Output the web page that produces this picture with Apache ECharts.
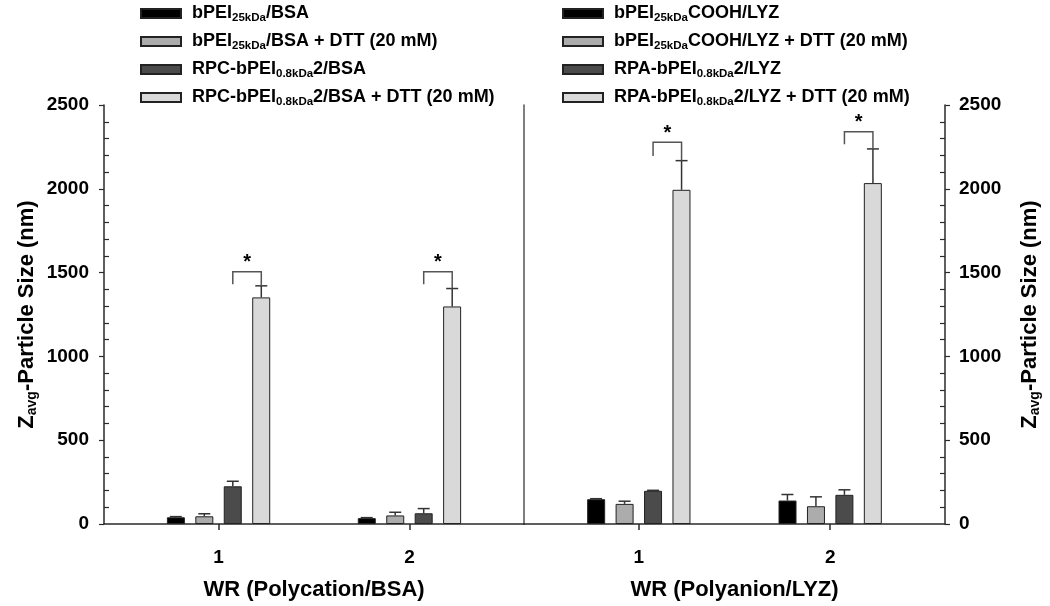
<!DOCTYPE html>
<html>
<head>
<meta charset="utf-8">
<script src="https://cdn.jsdelivr.net/npm/echarts@6/dist/echarts.min.js"></script>
<style>html,body{margin:0;padding:0;background:#fff}#c{width:1050px;height:606px}</style>
</head>
<body>
<div id="c"></div>
<script>
// ---- data ----
const xValues = [1, 2];
const bsaLabels = [
  ['bPEI', '25kDa', '/BSA'],
  ['bPEI', '25kDa', '/BSA + DTT (20 mM)'],
  ['RPC-bPEI', '0.8kDa', '2/BSA'],
  ['RPC-bPEI', '0.8kDa', '2/BSA + DTT (20 mM)']
];
const lyzLabels = [
  ['bPEI', '25kDa', 'COOH/LYZ'],
  ['bPEI', '25kDa', 'COOH/LYZ + DTT (20 mM)'],
  ['RPA-bPEI', '0.8kDa', '2/LYZ'],
  ['RPA-bPEI', '0.8kDa', '2/LYZ + DTT (20 mM)']
];
const bsaMeans  = [[40, 35], [46, 51], [225, 64], [1352, 1298]];
const bsaErrors = [[4, 3], [15, 19], [30, 28], [69, 107]];
const lyzMeans  = [[148, 140], [120, 106], [198, 174], [1994, 2034]];
const lyzErrors = [[3, 36], [16, 56], [3, 30], [174, 204]];
// significance brackets: [x, bracket top, left leg end]
const bsaBrackets = [[1, 1505, 1430], [2, 1505, 1430]];
const lyzBrackets = [[1, 2278, 2196], [2, 2341, 2266]];
const xTitleBSA = 'WR (Polycation/BSA)';
const xTitleLYZ = 'WR (Polyanion/LYZ)';
const yTitle = ['Z', 'avg', '-Particle Size (nm)'];

// ---- styles ----
const FONT = "'Liberation Sans', Arial, sans-serif";
const barColors = ['#000000', '#acacac', '#4b4b4b', '#d9d9d9'];
const BAR_W = 18, BAR_STEP = 28.5;
const AX = '#2a2a2a';

const nameOf = p => p.join('');
const richName = p => '{m|' + p[0] + '}{s|' + p[1] + '}{m|' + p[2] + '}';
const richStyles = {
  m: {fontFamily: FONT, fontWeight: 'bold', fontSize: 18, color: '#000', lineHeight: 21},
  s: {fontFamily: FONT, fontWeight: 'bold', fontSize: 11.5, color: '#000', lineHeight: 11, padding: [9, 0, 0, 0]}
};

function errorRender(params, api) {
  const x = api.value(0), v = api.value(1), e = api.value(2), k = api.value(3);
  const base = api.coord([x, v]);
  const top = api.coord([x, v + e]);
  const cx = base[0] + (k - 1.5) * BAR_STEP;
  const st = {stroke: '#333', lineWidth: 1.5};
  return {type: 'group', children: [
    {type: 'line', shape: {x1: cx, y1: base[1], x2: cx, y2: top[1]}, style: st},
    {type: 'line', shape: {x1: cx - 6, y1: top[1], x2: cx + 6, y2: top[1]}, style: st}
  ]};
}
function bracketRender(params, api) {
  const x = api.value(0), t = api.value(1), l = api.value(2), r = api.value(3);
  const pt = api.coord([x, t]), pl = api.coord([x, l]), pr = api.coord([x, r]);
  const xl = pt[0] + 0.5 * BAR_STEP, xr = pt[0] + 1.5 * BAR_STEP;
  const st = {stroke: '#555', lineWidth: 1.5, fill: null};
  return {type: 'group', children: [
    {type: 'polyline', shape: {points: [[xl, pl[1]], [xl, pt[1]], [xr, pt[1]], [xr, pr[1]]]}, style: st},
    {type: 'text', style: {text: '*', x: (xl + xr) / 2, y: pt[1] + 1, align: 'center', verticalAlign: 'bottom',
      font: 'bold 20px ' + FONT, fill: '#000'}}
  ]};
}

function panelSeries(labels, means, errors, brackets, gi, yi) {
  const out = [];
  labels.forEach((p, k) => {
    out.push({
      type: 'bar', name: nameOf(p), xAxisIndex: gi, yAxisIndex: yi,
      data: xValues.map((x, i) => [x, means[k][i]]),
      barWidth: BAR_W, barGap: '58%',
      itemStyle: {color: barColors[k], borderColor: '#222', borderWidth: 1},
      emphasis: {disabled: true}
    });
  });
  const errData = [];
  labels.forEach((p, k) => xValues.forEach((x, i) => errData.push([x, means[k][i], errors[k][i], k])));
  out.push({type: 'custom', xAxisIndex: gi, yAxisIndex: yi, renderItem: errorRender, data: errData, z: 3, silent: true});
  const brData = brackets.map(b => {
    const i = xValues.indexOf(b[0]);
    return [b[0], b[1], b[2], means[3][i] + errors[3][i]];
  });
  out.push({type: 'custom', xAxisIndex: gi, yAxisIndex: yi, renderItem: bracketRender, data: brData, z: 4, silent: true});
  return out;
}

const axisLabelStyle = {fontFamily: FONT, fontWeight: 'bold', fontSize: 19, color: '#000'};
const yNameRich = '{m|' + yTitle[0] + '}{s|' + yTitle[1] + '}{m|' + yTitle[2] + '}';
const yNameStyle = {
  rich: {
    m: {fontFamily: FONT, fontWeight: 'bold', fontSize: 22, color: '#000', lineHeight: 26},
    s: {fontFamily: FONT, fontWeight: 'bold', fontSize: 14, color: '#000', lineHeight: 14, padding: [11, 0, 0, 0]}
  }
};

function xAxis(gi, title) {
  return {
    type: 'value', gridIndex: gi, min: 0.4, max: 2.6,
    axisLine: {show: true, onZero: false, lineStyle: {color: AX, width: 1.5}},
    axisTick: {show: true, length: 6, customValues: xValues, lineStyle: {color: AX, width: 1.5}},
    axisLabel: {customValues: xValues, margin: 24, ...axisLabelStyle},
    splitLine: {show: false},
    name: title, nameLocation: 'middle', nameGap: 55,
    nameTextStyle: {fontFamily: FONT, fontWeight: 'bold', fontSize: 22, color: '#000'}
  };
}
function yMain(gi, pos, gap, margin) {
  return {
    type: 'value', gridIndex: gi, position: pos, min: 0, max: 2500, interval: 500,
    axisLine: {show: true, lineStyle: {color: AX, width: 1.5}},
    axisTick: {show: true, length: 5, lineStyle: {color: AX, width: 1.2}},
    axisLabel: {margin: margin, formatter: v => String(v), ...axisLabelStyle},
    splitLine: {show: false},
    name: yNameRich, nameLocation: 'middle', nameGap: gap, nameTextStyle: yNameStyle
  };
}
function yMinor(gi, pos) {
  return {
    type: 'value', gridIndex: gi, position: pos, min: 0, max: 2500, interval: 500,
    axisLine: {show: false}, axisLabel: {show: false},
    axisTick: {show: false, inside: true},
    minorTick: {show: true, splitNumber: 5, length: 5, lineStyle: {color: AX, width: 1.2}},
    splitLine: {show: false}
  };
}

const legendBase = {
  orient: 'vertical', top: 3, padding: 0, itemWidth: 40, itemHeight: 9, itemGap: 7,
  icon: 'rect', selectedMode: false,
  textStyle: {rich: richStyles, padding: [0, 0, 0, 6]}
};

const option = {
  animation: false,
  backgroundColor: '#fff',
  legend: [
    {...legendBase, left: 140, data: bsaLabels.map(nameOf),
      formatter: n => richName(bsaLabels.find(p => nameOf(p) === n))},
    {...legendBase, left: 562, data: lyzLabels.map(nameOf),
      formatter: n => richName(lyzLabels.find(p => nameOf(p) === n))}
  ],
  grid: [
    {left: 104, top: 105, width: 420, height: 419.5},
    {left: 524, top: 105, width: 421, height: 419.5}
  ],
  xAxis: [xAxis(0, xTitleBSA), xAxis(1, xTitleLYZ)],
  yAxis: [
    yMain(0, 'left', 64, 15), yMinor(0, 'left'),
    yMain(1, 'right', 72, 14), yMinor(1, 'right'),
    {type: 'value', gridIndex: 1, position: 'left', min: 0, max: 2500,
      axisLine: {show: true, lineStyle: {color: '#555', width: 1.5}},
      axisTick: {show: false}, axisLabel: {show: false}, splitLine: {show: false}}
  ],
  series: [
    ...panelSeries(bsaLabels, bsaMeans, bsaErrors, bsaBrackets, 0, 0),
    ...panelSeries(lyzLabels, lyzMeans, lyzErrors, lyzBrackets, 1, 2)
  ]
};
const chart = echarts.init(document.getElementById('c'), null, {renderer: 'canvas'});
chart.setOption(option);
</script>
</body>
</html>
